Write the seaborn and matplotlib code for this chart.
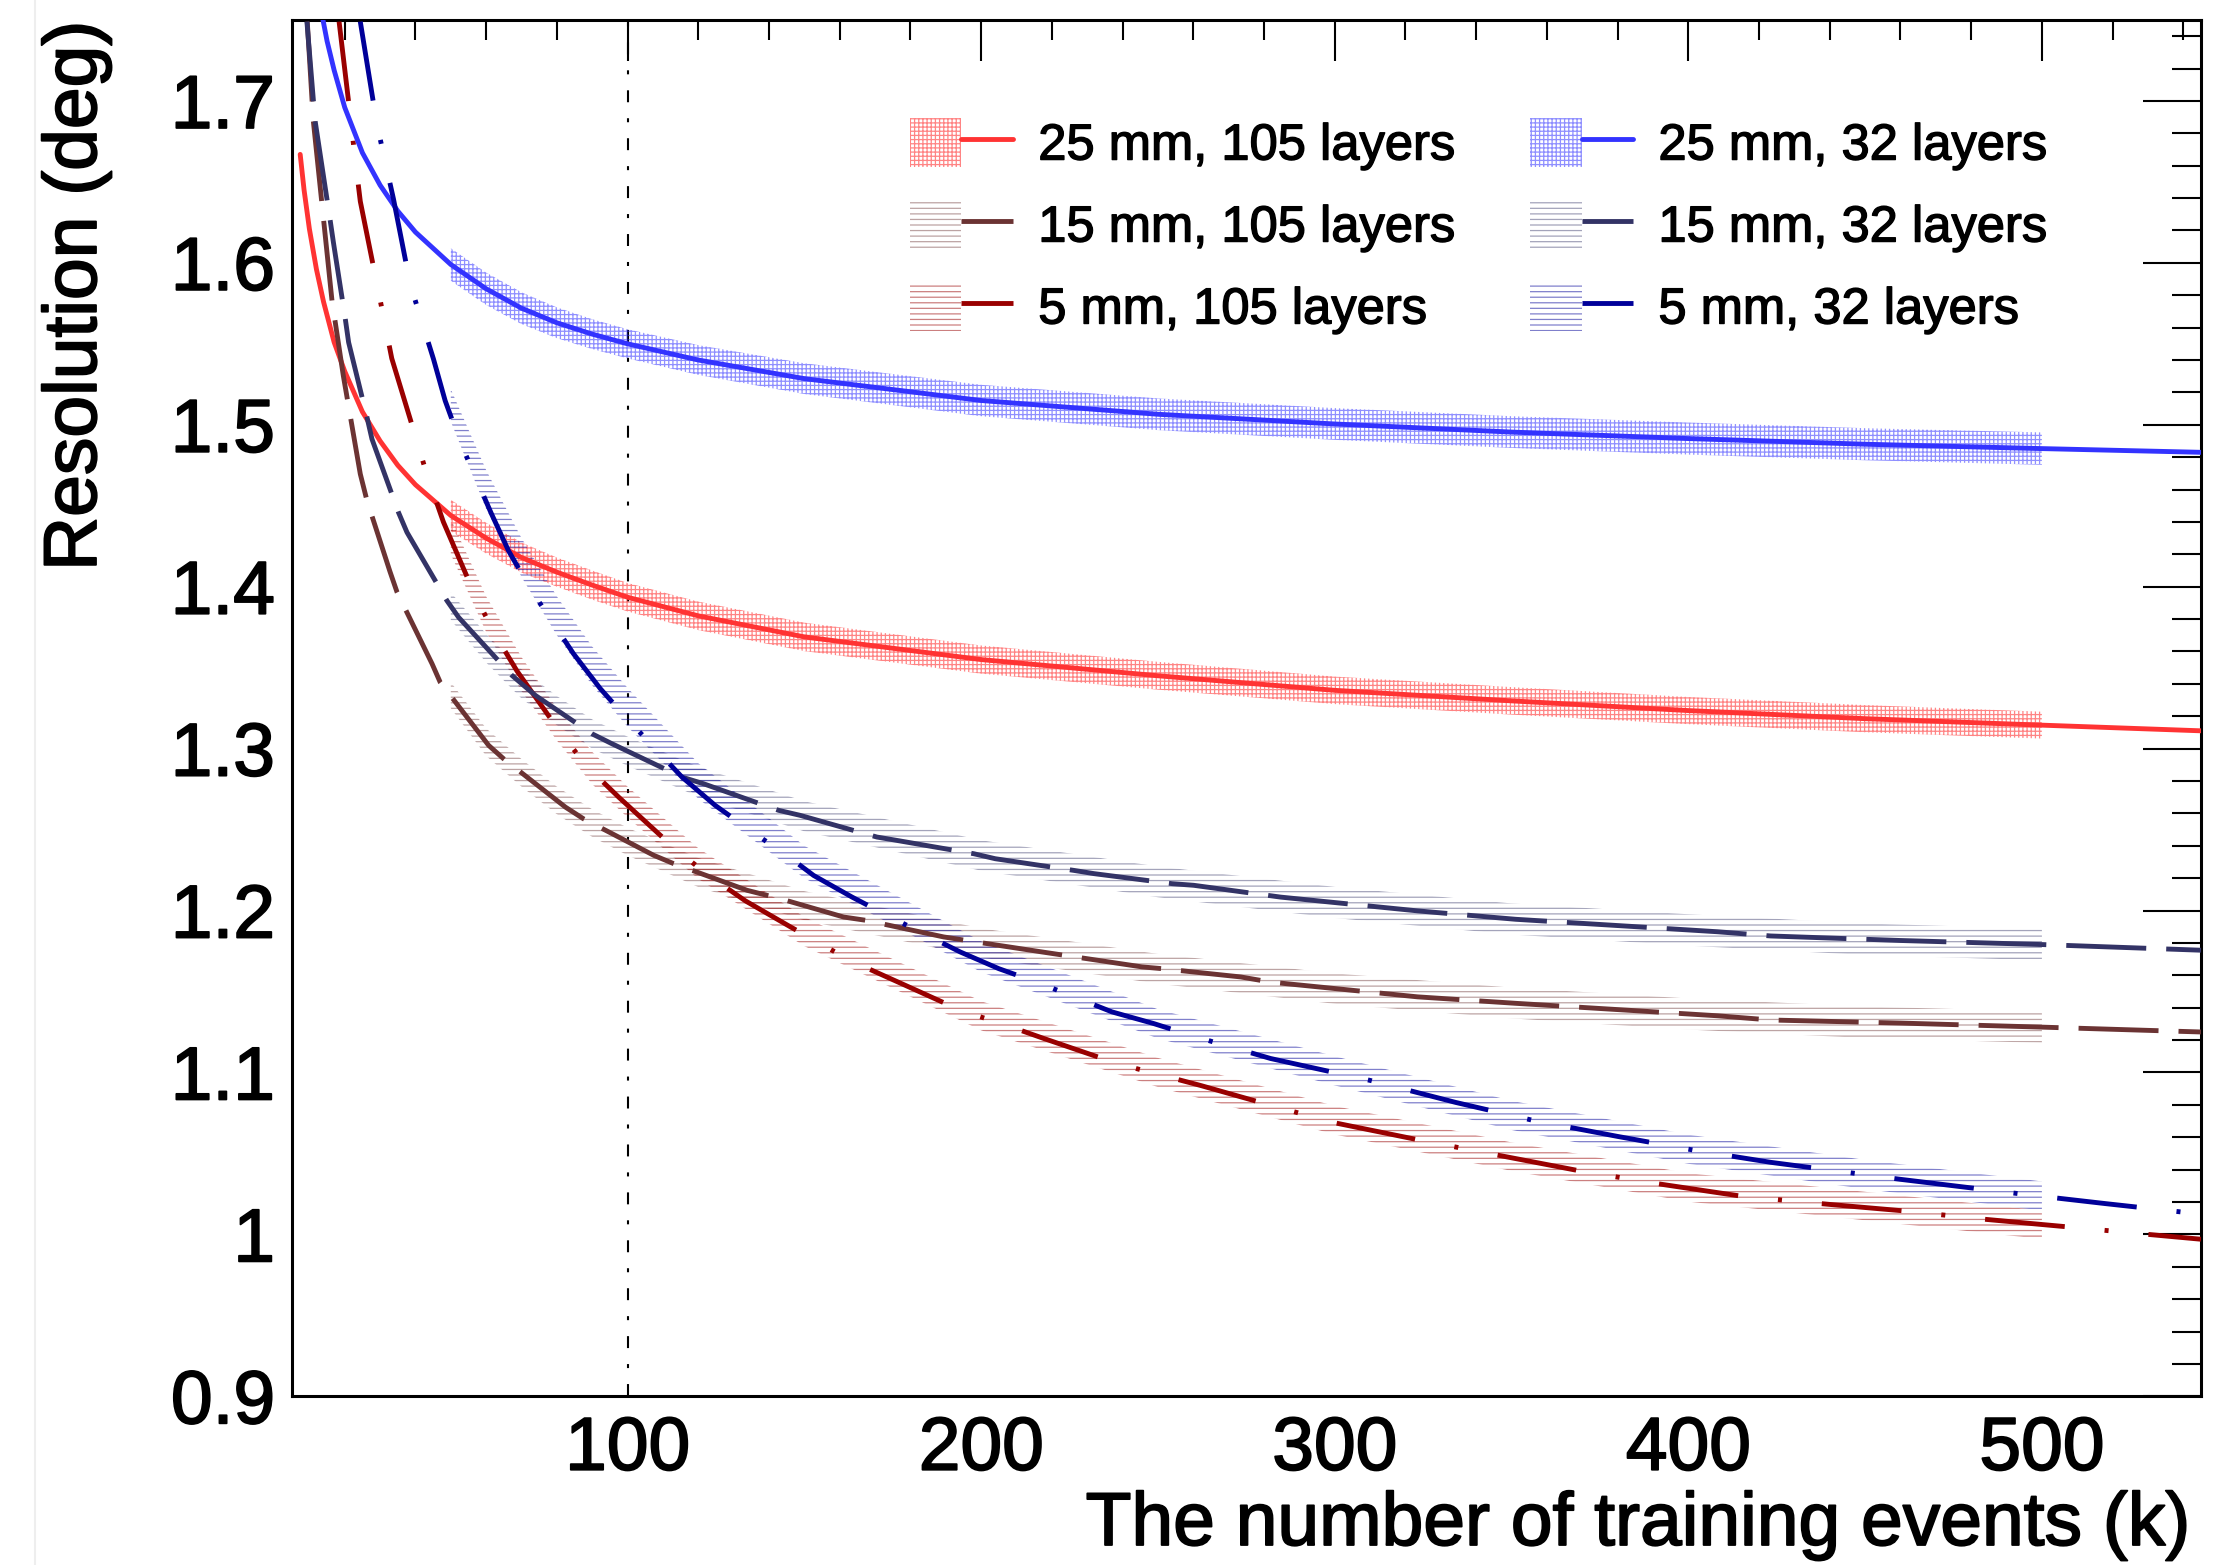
import matplotlib
matplotlib.use("Agg")
import matplotlib.pyplot as plt
from matplotlib.patches import Patch
from matplotlib.lines import Line2D
from matplotlib.legend_handler import HandlerTuple
from matplotlib.ticker import MultipleLocator, FuncFormatter
import matplotlib.colors as mcolors
import matplotlib.patheffects as pe
import seaborn as sns

# ---------------- data ----------------
labels = ["25 mm, 105 layers", "15 mm, 105 layers", "5 mm, 105 layers",
          "25 mm, 32 layers", "15 mm, 32 layers", "5 mm, 32 layers"]

# fitted curves (x in k events, y in deg)
x_25_105 = [7.4, 8.5, 10, 12, 14, 17, 20, 25, 30, 35, 40, 50, 60, 70, 80, 90,
            100, 120, 150, 200, 250, 300, 350, 400, 450, 500, 545]
y_25_105 = [1.667, 1.645, 1.621, 1.596, 1.576, 1.551, 1.533, 1.508, 1.490, 1.475, 1.463, 1.444,
            1.430, 1.418, 1.409, 1.401, 1.3935, 1.382, 1.369, 1.355, 1.345, 1.336, 1.3295,
            1.3235, 1.3185, 1.3145, 1.311]

x_15_105 = [9.4, 11.1, 16.4, 19.6, 24.4, 26.3, 32.8, 34.8, 44.7, 47.0, 60.7, 64.9, 82.4, 87.5,
            107.4, 113, 133.8, 143.2, 161.1, 167.3, 189.4, 195.6, 217.3, 223.4, 245.5, 251.2,
            273.4, 281.9, 323.4, 351.2, 379.5, 408.3, 423.3, 460, 500, 545]
y_15_105 = [1.749, 1.688, 1.5766, 1.5303, 1.4696, 1.4531, 1.4093, 1.3966, 1.3524, 1.341, 1.302,
            1.2938, 1.2639, 1.2567, 1.2341, 1.229, 1.2125, 1.2073, 1.196, 1.194, 1.1837, 1.1816,
            1.1744, 1.1724, 1.1652, 1.1641, 1.159, 1.1558, 1.1467, 1.1427, 1.1389, 1.135,
            1.1324, 1.1305, 1.128, 1.125]

x_5_105 = [18.4, 21.5, 22.9, 24.4, 29.1, 31.4, 33.3, 40.4, 43.2, 47.9, 56.4, 62.1, 68.7, 81.0,
           88.5, 97.5, 114, 123.4, 133.3, 146, 163.1, 174.3, 194.6, 206, 217.7, 238.5, 262,
           284.7, 299.8, 323.4, 345, 369.6, 391.3, 415.3, 440, 461, 483, 508, 530, 545]
y_5_105 = [1.749, 1.692, 1.665, 1.638, 1.587, 1.562, 1.541, 1.490, 1.4695, 1.440, 1.397, 1.372,
           1.348, 1.310, 1.289, 1.270, 1.237, 1.221, 1.206, 1.190, 1.169, 1.158, 1.138, 1.130,
           1.121, 1.1055, 1.092, 1.078, 1.069, 1.0585, 1.0494, 1.0391, 1.0313, 1.0235, 1.0185,
           1.0145, 1.0095, 1.0045, 1.000, 0.997]

x_25_32 = [13.5, 15, 17, 20, 25, 30, 35, 40, 50, 60, 70, 80, 90, 100, 120, 150, 200, 250, 300,
           350, 400, 450, 500, 545]
y_25_32 = [1.754, 1.737, 1.719, 1.696, 1.668, 1.648, 1.632, 1.619, 1.599, 1.584, 1.572, 1.563,
           1.556, 1.550, 1.540, 1.5285, 1.515, 1.5065, 1.5005, 1.4955, 1.4915, 1.488, 1.4853,
           1.483]

x_15_32 = [9.3, 11.6, 15.9, 16.8, 20.1, 21.1, 26.3, 27.7, 35.2, 37.6, 48.9, 52.2, 67.3, 73.9,
           89.9, 95.6, 115.4, 121.5, 142.7, 148.8, 170.5, 176.2, 197.9, 204, 226.2, 231.9, 254,
           260.1, 284.7, 323.4, 351.2, 379.5, 408.3, 423.3, 460, 500, 545]
y_15_32 = [1.749, 1.688, 1.626, 1.6126, 1.5663, 1.5509, 1.5046, 1.4912, 1.4459, 1.4336, 1.3914,
           1.3811, 1.3452, 1.3329, 1.3092, 1.303, 1.2824, 1.2783, 1.2619, 1.2588, 1.2454,
           1.2433, 1.2351, 1.232, 1.2248, 1.2228, 1.2166, 1.2156, 1.2083, 1.1998, 1.1946,
           1.1908, 1.1869, 1.1843, 1.1815, 1.179, 1.1755]

x_5_32 = [24.4, 29.1, 33.8, 36.2, 38.5, 45.1, 48.4, 52.7, 61.4, 66.3, 72.5, 84.7, 92.3, 100.3,
          115.4, 124.8, 134.7, 146, 152.6, 163.5, 174.3, 194.1, 205, 216.8, 237, 248.8, 260.7,
          281.9, 310.2, 334.2, 355.9, 380, 401.6, 423.3, 460, 494, 518, 545]
y_5_32 = [1.749, 1.6856, 1.6393, 1.6126, 1.5869, 1.5406, 1.5149, 1.4891, 1.4455, 1.4223, 1.3987,
          1.3586, 1.337, 1.3174, 1.2824, 1.2649, 1.2495, 1.2325, 1.2217, 1.2083, 1.196, 1.1744,
          1.1641, 1.1549, 1.1374, 1.1302, 1.122, 1.1086, 1.095, 1.0815, 1.0705, 1.0605, 1.052,
          1.0445, 1.034, 1.025, 1.019, 1.0125]

# hatched uncertainty bands (centre and half width)
band_x = [50, 60, 70, 80, 90, 100, 120, 150, 200, 250, 300, 350, 400, 450, 500]
c_25_105 = [1.444, 1.430, 1.418, 1.409, 1.401, 1.3935, 1.382, 1.369, 1.355, 1.345, 1.336,
            1.3295, 1.3235, 1.3185, 1.3145]
hw_25_105 = [0.0097, 0.0095, 0.0093, 0.009, 0.009, 0.0088, 0.0088, 0.0088, 0.0087, 0.0086,
             0.0085, 0.0085, 0.0084, 0.0084, 0.0083]
c_15_105 = [1.333, 1.304, 1.285, 1.268, 1.254, 1.2426, 1.2235, 1.203, 1.180, 1.164, 1.1518,
            1.1429, 1.1361, 1.131, 1.128]
hw_15_105 = [0.008, 0.0085, 0.0085, 0.0085, 0.0085, 0.0085, 0.009, 0.009, 0.009, 0.0092,
             0.0094, 0.0095, 0.0096, 0.0097, 0.0097]
c_5_105 = [1.431, 1.383, 1.346, 1.315, 1.288, 1.267, 1.229, 1.187, 1.135, 1.100, 1.0705, 1.048,
           1.029, 1.0175, 1.006]
hw_5_105 = [0.011, 0.011, 0.0105, 0.010, 0.010, 0.0095, 0.0095, 0.009, 0.009, 0.009, 0.0088,
            0.0088, 0.0088, 0.0088, 0.0088]
c_25_32 = [1.599, 1.584, 1.572, 1.563, 1.556, 1.550, 1.540, 1.5285, 1.515, 1.5065, 1.5005,
           1.4955, 1.4915, 1.488, 1.4853]
hw_25_32 = [0.0100, 0.0100, 0.0098, 0.0095, 0.0092, 0.0090, 0.0092, 0.0095, 0.0097, 0.0098,
            0.0098, 0.0098, 0.0099, 0.0099, 0.0100]
c_15_32 = [1.388, 1.362, 1.340, 1.3235, 1.309, 1.2984, 1.2795, 1.2582, 1.234, 1.2177, 1.205,
           1.1948, 1.188, 1.1823, 1.179]
hw_15_32 = [0.0085, 0.0088, 0.009, 0.009, 0.009, 0.009, 0.0092, 0.0093, 0.0094, 0.0095,
            0.0096, 0.0096, 0.0097, 0.0097, 0.0097]
c_5_32 = [1.512, 1.460, 1.418, 1.382, 1.351, 1.3255, 1.280, 1.230, 1.1715, 1.130, 1.101,
          1.0735, 1.0526, 1.037, 1.0237]
hw_5_32 = [0.010, 0.012, 0.012, 0.012, 0.012, 0.012, 0.011, 0.010, 0.0095, 0.009, 0.009,
           0.009, 0.009, 0.009, 0.009]

# ---------------- styling ----------------
sns.set_style("white")
plt.rcParams["font.family"] = ["Liberation Sans", "DejaVu Sans"]
plt.rcParams["text.color"] = "black"
plt.rcParams["axes.labelcolor"] = "black"
plt.rcParams["xtick.color"] = "black"
plt.rcParams["ytick.color"] = "black"
plt.rcParams["lines.scale_dashes"] = False
plt.rcParams["hatch.linewidth"] = 0.9

colors = ["#ff3333", "#6b3333", "#990000", "#3333ff", "#333366", "#000099"]
solid = "-"
dash15 = (0, (57.6, 14.4))
dash5 = (0, (57.6, 28.8, 2.9, 28.8))
styles = [solid, dash15, dash5, solid, dash15, dash5]
hatches = ["++++", "---", "---", "++++", "---", "---"]
band_alpha = [0.6, 0.45, 0.5, 0.55, 0.45, 0.5]

curves = [(x_25_105, y_25_105), (x_15_105, y_15_105), (x_5_105, y_5_105),
          (x_25_32, y_25_32), (x_15_32, y_15_32), (x_5_32, y_5_32)]
bands = [(c_25_105, hw_25_105), (c_15_105, hw_15_105), (c_5_105, hw_5_105),
         (c_25_32, hw_25_32), (c_15_32, hw_15_32), (c_5_32, hw_5_32)]

W, H = 2213, 1565
fig = plt.figure(figsize=(W / 100, H / 100), dpi=100)
ax = fig.add_axes([291.7 / W, 1 - 1396.3 / H, (2201 - 291.7) / W, (1396.3 - 20) / H])

LW = 3.5
# bands
for (c, hw), col, hat, a in zip(bands, colors, hatches, band_alpha):
    lo = [ci - hi for ci, hi in zip(c, hw)]
    up = [ci + hi for ci, hi in zip(c, hw)]
    ax.fill_between(band_x, lo, up, facecolor="none",
                    edgecolor=mcolors.to_rgba(col, a), linewidth=0, hatch=hat, zorder=2)

# fit lines
for (xs, ys), col, ls in zip(curves, colors, styles):
    sns.lineplot(x=xs, y=ys, ax=ax, color=col, linewidth=LW, linestyle=ls,
                 estimator=None, errorbar=None, sort=False, legend=False, zorder=3)

ax.axvline(100, color="black", linewidth=1.5, linestyle=(0, (8.6, 11.5, 2.9, 11.5)), zorder=1)

ax.set_xlim(5, 545)
ax.set_ylim(0.9, 1.75)
ax.xaxis.set_major_locator(MultipleLocator(100))
ax.xaxis.set_minor_locator(MultipleLocator(20))
ax.yaxis.set_major_locator(MultipleLocator(0.1))
ax.yaxis.set_minor_locator(MultipleLocator(0.02))
ax.yaxis.set_major_formatter(FuncFormatter(lambda v, p: f"{v:g}"))
ax.xaxis.set_major_formatter(FuncFormatter(lambda v, p: f"{v:g}"))

ax.tick_params(axis="both", which="both", direction="in", top=True, right=True,
               width=1.5, color="black")
ax.tick_params(axis="x", which="major", length=29.5, pad=14, labelsize=54)
ax.tick_params(axis="x", which="minor", length=14.4)
ax.tick_params(axis="y", which="major", length=41.8, pad=12, labelsize=54)
ax.tick_params(axis="y", which="minor", length=20.9)
for sp in ax.spines.values():
    sp.set_linewidth(2.2)
    sp.set_color("black")
ax.set_xlabel("")
ax.set_ylabel("")

bold_fx = [pe.withStroke(linewidth=1.3, foreground="black")]
for lab in ax.get_xticklabels() + ax.get_yticklabels():
    lab.set_path_effects(bold_fx)

fig.text(2190 / W, 1 - 1545 / H, "The number of training events (k)", fontsize=54,
         ha="right", va="baseline", path_effects=bold_fx)
fig.text(96 / W, 1 - 21 / H, "Resolution (deg)", fontsize=54, rotation=90,
         rotation_mode="anchor", ha="right", va="baseline", path_effects=bold_fx)

# faint screenshot edge line
fig.add_artist(Line2D([35 / W, 35 / W], [0, 1], color="#eeeeee", linewidth=1.5))

# legend
handles = []
for col, ls, hat, a in zip(colors, styles, hatches, band_alpha):
    p = Patch(facecolor="none", edgecolor=mcolors.to_rgba(col, a), linewidth=0, hatch=hat)
    l = Line2D([], [], color=col, linewidth=LW, linestyle=ls)
    handles.append((p, l))
leg = ax.legend(handles, labels, handler_map={tuple: HandlerTuple(ndivide=None)},
                ncol=2, loc="upper left", bbox_to_anchor=(910 / W, 1 - 118 / H),
                bbox_transform=fig.transFigure, frameon=False, fontsize=36.5,
                borderpad=0, borderaxespad=0, handlelength=2.03, handleheight=1.1,
                handletextpad=0.5, columnspacing=1.46, labelspacing=0.58)
for t in leg.get_texts():
    t.set_path_effects([pe.withStroke(linewidth=1.0, foreground="black")])

fig.savefig("out.png", dpi=100)
